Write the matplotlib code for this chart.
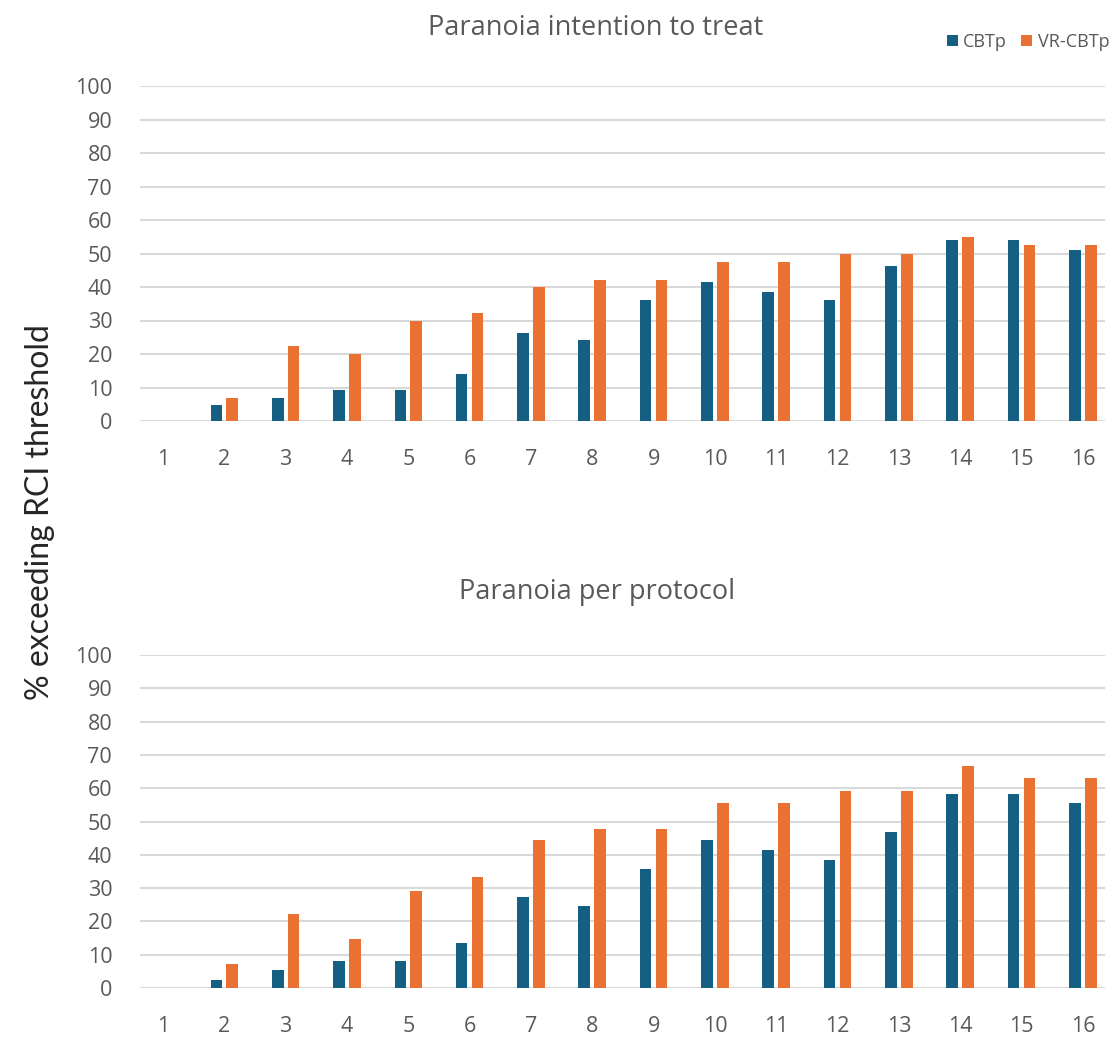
import matplotlib
matplotlib.use("Agg")
import matplotlib.pyplot as plt
import numpy as np

sessions = list(range(1, 17))
yticks = list(range(0, 101, 10))

itt_cbtp = [0, 4.8, 7.0, 9.3, 9.3, 14.1, 26.4, 24.1, 36.1, 41.5, 38.6, 36.1, 46.2, 53.9, 53.9, 51.0]
itt_vr   = [0, 7.0, 22.3, 20.0, 30.0, 32.1, 39.9, 42.2, 42.2, 47.4, 47.4, 49.8, 49.8, 55.0, 52.6, 52.6]

pp_cbtp = [0, 2.3, 5.3, 8.2, 8.2, 13.4, 27.4, 24.5, 35.6, 44.4, 41.4, 38.4, 46.7, 58.4, 58.4, 55.5]
pp_vr   = [0, 7.1, 22.2, 14.6, 29.2, 33.2, 44.3, 47.6, 47.6, 55.5, 55.5, 59.1, 59.1, 66.7, 63.0, 63.0]

titles = ["Paranoia intention to treat", "Paranoia per protocol"]
series_names = ["CBTp", "VR-CBTp"]
ylabel = "% exceeding RCI threshold"

BLUE = "#156082"
ORANGE = "#E97132"
GRID = "#d9d9d9"
TICK = "#595959"

plt.rcParams['font.family'] = ['Open Sans', 'DejaVu Sans']

fig = plt.figure(figsize=(11.14, 10.38), dpi=100)
W, H = 1114, 1038

def make_ax(top_px, bottom_px):
    left, right = 140, 1105
    return fig.add_axes([left / W, 1 - bottom_px / H, (right - left) / W, (bottom_px - top_px) / H])

ax1 = make_ax(86, 421)
ax2 = make_ax(655, 988)

x = np.array(sessions)
bw = 0.19
off = 0.13
for ax, c, v, t in [(ax1, itt_cbtp, itt_vr, titles[0]), (ax2, pp_cbtp, pp_vr, titles[1])]:
    ax.bar(x - off, c, width=bw, color=BLUE, label=series_names[0], zorder=3)
    ax.bar(x + off, v, width=bw, color=ORANGE, label=series_names[1], zorder=3)
    ax.set_xlim(0.625, 16.36)
    ax.set_ylim(0, 100)
    ax.set_yticks(yticks)
    ax.set_xticks(sessions)
    ax.set_xticklabels([str(s) for s in sessions])
    ax.yaxis.grid(True, color=GRID, linewidth=1.5, zorder=0)
    ax.set_axisbelow(True)
    for s in ax.spines.values():
        s.set_visible(False)
    ax.tick_params(axis='both', length=0, labelsize=15.5, colors=TICK)
    ax.tick_params(axis='x', pad=20)
    ax.tick_params(axis='y', pad=20)

fig.text(596 / W, 1 - 28 / H, titles[0], ha='center', va='center', fontsize=19.5, color=TICK)
fig.text(597 / W, 1 - 592 / H, titles[1], ha='center', va='center', fontsize=19.5, color=TICK)

fig.text(40 / W, 1 - 512 / H, ylabel, rotation=90, ha='center', va='center', fontsize=23,
         color='#262626', family=['Lato', 'DejaVu Sans'])

h, l = ax1.get_legend_handles_labels()
fig.legend(h, l, loc='center', bbox_to_anchor=(1028 / W, 1 - 42 / H), ncol=2, frameon=False,
           fontsize=13, handlelength=0.6, handleheight=0.6, handletextpad=0.3, columnspacing=0.8,
           labelcolor=TICK)

fig.savefig("out.png", dpi=100)
